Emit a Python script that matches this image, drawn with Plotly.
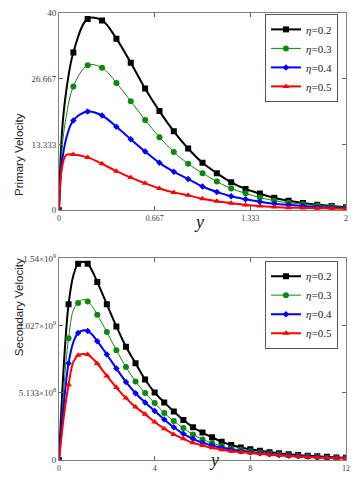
import plotly.graph_objects as go
from plotly.subplots import make_subplots

# ---- primary velocity (top panel), markers every 0.1 ----
Y_TOP = [round(0.1 * i, 1) for i in range(21)]
PRIMARY = {
    "0.2": [0, 32.0, 38.8, 38.5, 34.8, 29.9, 24.7, 20.1, 16.0, 12.5, 9.6,
            7.5, 5.65, 4.3, 3.35, 2.5, 1.9, 1.45, 1.1, 0.85, 0.6],
    "0.3": [0, 25.1, 29.4, 28.9, 25.8, 22.1, 18.3, 14.8, 11.8, 9.4, 7.5,
            5.8, 4.4, 3.4, 2.56, 1.9, 1.5, 1.2, 0.95, 0.75, 0.5],
    "0.4": [0, 18.2, 20.0, 19.2, 16.9, 14.4, 11.9, 9.6, 7.8, 6.3, 4.8,
            3.7, 2.8, 2.2, 1.7, 1.3, 1.05, 0.85, 0.65, 0.5, 0.4],
    "0.5": [0, 11.3, 10.7, 9.4, 7.9, 6.6, 5.45, 4.4, 3.6, 3.0, 2.3,
            1.8, 1.4, 1.05, 0.85, 0.65, 0.5, 0.45, 0.4, 0.35, 0.3],
}
# extra points read off the steep rise near the wall (line only, no marker)
Y_TOP_EXTRA = [0.02, 0.05]
PRIMARY_EXTRA = {
    "0.2": [15.5, 24.1],
    "0.3": [12.0, 19.0],
    "0.4": [9.5, 14.5],
    "0.5": [8.5, 11.2],
}

# ---- secondary velocity (bottom panel), markers every 0.4, units of 1e9 ----
Y_BOT = [round(0.4 * i, 1) for i in range(31)]
SECONDARY = {
    "0.2": [0, 1.19, 1.50, 1.50, 1.36, 1.19, 1.02, 0.865, 0.74, 0.615, 0.515,
            0.44, 0.37, 0.305, 0.25, 0.21, 0.173, 0.14, 0.115, 0.096, 0.082,
            0.07, 0.06, 0.051, 0.044, 0.038, 0.033, 0.028, 0.024, 0.02, 0.017],
    "0.3": [0, 0.93, 1.20, 1.21, 1.11, 0.978, 0.838, 0.71, 0.60, 0.512, 0.435,
            0.359, 0.297, 0.244, 0.195, 0.157, 0.129, 0.106, 0.088, 0.078, 0.067,
            0.058, 0.05, 0.043, 0.037, 0.032, 0.028, 0.024, 0.02, 0.017, 0.014],
    "0.4": [0, 0.74, 0.97, 0.985, 0.908, 0.806, 0.699, 0.596, 0.51, 0.44, 0.375,
            0.31, 0.25, 0.2, 0.162, 0.132, 0.111, 0.093, 0.078, 0.067, 0.059,
            0.051, 0.045, 0.039, 0.034, 0.03, 0.026, 0.022, 0.019, 0.016, 0.013],
    "0.5": [0, 0.575, 0.80, 0.805, 0.737, 0.642, 0.553, 0.473, 0.405, 0.35, 0.29,
            0.239, 0.195, 0.162, 0.132, 0.111, 0.093, 0.078, 0.067, 0.06, 0.054,
            0.047, 0.041, 0.036, 0.031, 0.027, 0.023, 0.02, 0.017, 0.014, 0.012],
}
# early rise and rounded peak (line only)
Y_BOT_EXTRA = [0.2, 0.6, 1.0, 1.4]
SECONDARY_EXTRA = {
    "0.2": [0.72, 1.41, 1.515, 1.44],
    "0.3": [0.55, 1.145, 1.225, 1.17],
    "0.4": [0.43, 0.90, 0.99, 0.955],
    "0.5": [0.33, 0.75, 0.81, 0.775],
}

TOP_XTICKS = [0, 0.667, 1.333, 2]
TOP_XTICKTEXT = ["0", "0.667", "1.333", "2"]
TOP_YTICKS = [0, 13.333, 26.667, 40]
TOP_YTICKTEXT = ["0", "13.333", "26.667", "40"]
BOT_XTICKS = [0, 4, 8, 12]
BOT_YTICKS = [0, 5.133e8, 1.027e9, 1.54e9]
BOT_YTICKTEXT = ["0", "5.133×10<sup>8</sup>", "1.027×10<sup>9</sup>", "1.54×10<sup>9</sup>"]

STYLE = {
    "0.2": dict(color="#000000", symbol="square", size=6, width=2),
    "0.3": dict(color="#0a8a0a", symbol="circle", size=6, width=1),
    "0.4": dict(color="#0000ff", symbol="diamond", size=5, width=2),
    "0.5": dict(color="#ff0000", symbol="triangle-up", size=6, width=2),
}
SERIF = "Liberation Serif, Times New Roman, serif"
SANS = "Liberation Sans, Arial, sans-serif"

fig = make_subplots(rows=2, cols=1)


def add_panel(row, xs, ys, extra_x, extra_y, st, legend, label):
    pts = sorted(zip(xs + extra_x, ys + extra_y))
    fig.add_trace(go.Scatter(
        x=[p[0] for p in pts], y=[p[1] for p in pts], mode="lines",
        line=dict(color=st["color"], width=st["width"], shape="spline"),
        showlegend=False, hoverinfo="skip"), row=row, col=1)
    fig.add_trace(go.Scatter(
        x=xs, y=ys, mode="markers",
        marker=dict(color=st["color"], symbol=st["symbol"], size=st["size"]),
        showlegend=False), row=row, col=1)
    # legend-only entry
    fig.add_trace(go.Scatter(
        x=[None], y=[None], mode="lines+markers", name=label,
        line=dict(color=st["color"], width=st["width"]),
        marker=dict(color=st["color"], symbol=st["symbol"], size=st["size"]),
        legend=legend), row=row, col=1)


for key, st in STYLE.items():
    label = f"<i>η</i>={key}"
    add_panel(1, Y_TOP, PRIMARY[key], Y_TOP_EXTRA, PRIMARY_EXTRA[key], st, "legend", label)
    add_panel(2, Y_BOT, [v * 1e9 for v in SECONDARY[key]], Y_BOT_EXTRA,
              [v * 1e9 for v in SECONDARY_EXTRA[key]], st, "legend2", label)

axis_common = dict(
    showline=True, linecolor="#808080", linewidth=1, mirror="ticks",
    ticks="inside", ticklen=4, tickcolor="#606060", showgrid=False,
    zeroline=False, automargin=False, ticklabeloverflow="allow",
    tickfont=dict(family=SERIF, size=8, color="#404040"),
)
fig.update_xaxes(**axis_common)
fig.update_yaxes(**axis_common)
fig.update_yaxes(tickfont=dict(family=SERIF, size=9, color="#404040"))

fig.update_xaxes(range=[0, 2], tickvals=TOP_XTICKS, ticktext=TOP_XTICKTEXT, row=1, col=1)
fig.update_yaxes(range=[0, 40], tickvals=TOP_YTICKS, ticktext=TOP_YTICKTEXT, row=1, col=1)
fig.update_xaxes(range=[0, 12], tickvals=BOT_XTICKS,
                 ticktext=[str(t) for t in BOT_XTICKS], row=2, col=1)
fig.update_yaxes(range=[0, 1.54e9], tickvals=BOT_YTICKS, ticktext=BOT_YTICKTEXT, row=2, col=1)

legend_style = dict(xanchor="right", yanchor="top", bgcolor="white",
                    bordercolor="#555555", borderwidth=1, tracegroupgap=0,
                    font=dict(family=SERIF, size=11, color="#222222"))

# the page body adds an 8px margin, so the figure is 8px smaller than the window
fig.update_layout(
    width=350, height=472,
    margin=dict(l=51, r=12, t=5, b=20),
    paper_bgcolor="white", plot_bgcolor="white",
    yaxis=dict(domain=[0.559, 1.0]), yaxis2=dict(domain=[0.0, 0.451]),
    legend=dict(x=0.972, y=0.998, **legend_style),
    legend2=dict(x=0.972, y=0.446, **legend_style),
    annotations=[
        dict(text="Primary Velocity", x=-0.167, y=0.780, xref="paper", yref="paper",
             textangle=-90, showarrow=False, font=dict(family=SANS, size=11.5, color="#222222")),
        dict(text="Secondary Velocity", x=-0.167, y=0.228, xref="paper", yref="paper",
             textangle=-90, showarrow=False, font=dict(family=SANS, size=11.5, color="#222222")),
        dict(text="<i>y</i>", x=0.488, y=0.532, xref="paper", yref="paper",
             showarrow=False, font=dict(family=SERIF, size=18, color="#222222")),
        dict(text="<i>y</i>", x=0.54, y=-0.0268, xref="paper", yref="paper",
             showarrow=False, font=dict(family=SERIF, size=18, color="#222222")),
    ],
)

fig.write_html("out.html")
